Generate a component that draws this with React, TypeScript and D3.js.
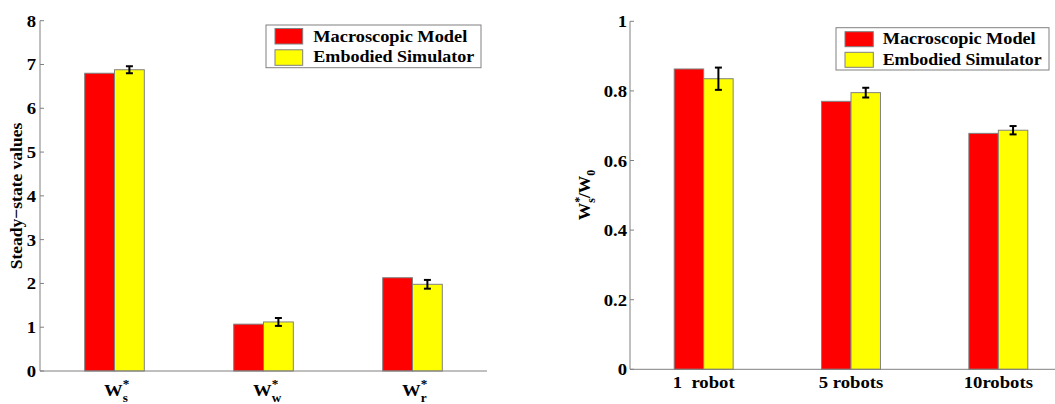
import React from "react";
import * as d3 from "d3";

const leftCats = ["s", "w", "r"];
const leftMacro = [6.8, 1.07, 2.13];
const leftEmbodied = [6.88, 1.12, 1.98];
const leftErr = [0.08, 0.09, 0.1];
const leftTicks = [0, 1, 2, 3, 4, 5, 6, 7, 8];

const rightCats = ["1  robot", "5 robots", "10robots"];
const rightMacro = [0.863, 0.77, 0.678];
const rightEmbodied = [0.835, 0.795, 0.687];
const rightErr = [0.032, 0.014, 0.012];
const rightTicks = [0, 0.2, 0.4, 0.6, 0.8, 1];

const seriesNames = ["Macroscopic Model", "Embodied Simulator"];
const colors = ["#ff0000", "#ffff00"];

const FONT = "Liberation Serif, Times New Roman, Times, DejaVu Serif, serif";
const AX = "#808080";
const SX = 1.1;

function SText({ x, y, anchor, children, size = 17 }: any) {
  return (
    <g transform={`translate(${x},${y}) scale(${SX},1)`}>
      <text x={0} y={0} textAnchor={anchor} fontFamily={FONT} fontWeight="bold" fontSize={size} fill="#000" style={{ whiteSpace: "pre" }}>
        {children}
      </text>
    </g>
  );
}

function Legend({ x0, y0, x1, y1, sw, texts }: any) {
  return (
    <g>
      <rect x={x0} y={y0} width={x1 - x0} height={y1 - y0} fill="#fff" stroke={AX} strokeWidth={1} />
      {seriesNames.map((n, i) => (
        <g key={n}>
          <rect x={sw.x} y={sw.ys[i]} width={sw.w} height={sw.h} fill={colors[i]} stroke={AX} strokeWidth={1} />
          <text x={texts.x} y={texts.ys[i]} fontFamily={FONT} fontWeight="bold" fontSize={17} textLength={texts.lens[i]} lengthAdjust="spacingAndGlyphs">
            {n}
          </text>
        </g>
      ))}
    </g>
  );
}

function Bars({ x, y, cats, a, b, err }: any) {
  const w = x.step() * 0.2;
  return (
    <g>
      {cats.map((c: string, i: number) => {
        const cx = (x(c) as number) + x.bandwidth() / 2;
        return (
          <g key={c}>
            <rect x={cx - w} y={y(a[i])} width={w} height={y(0) - y(a[i])} fill={colors[0]} stroke={AX} strokeWidth={1} />
            <rect x={cx} y={y(b[i])} width={w} height={y(0) - y(b[i])} fill={colors[1]} stroke={AX} strokeWidth={1} />
            <g stroke="#000" strokeWidth={2}>
              <line x1={cx + w / 2} x2={cx + w / 2} y1={y(b[i] - err[i])} y2={y(b[i] + err[i])} />
              <line x1={cx + w / 2 - 3.5} x2={cx + w / 2 + 3.5} y1={y(b[i] - err[i])} y2={y(b[i] - err[i])} />
              <line x1={cx + w / 2 - 3.5} x2={cx + w / 2 + 3.5} y1={y(b[i] + err[i])} y2={y(b[i] + err[i])} />
            </g>
          </g>
        );
      })}
    </g>
  );
}

export default function App() {
  const lx = d3.scaleBand<string>().domain(leftCats).range([40, 487]).padding(0);
  const ly = d3.scaleLinear().domain([0, 8]).range([371, 20.7]);
  const rx = d3.scaleBand<string>().domain(rightCats).range([630, 1072]).padding(0);
  const ry = d3.scaleLinear().domain([0, 1]).range([369.3, 21.3]);

  return (
    <svg width={1055} height={404} style={{ position: "absolute", left: 0, top: 0, background: "#fff" }}>
      <rect x={0} y={0} width={1055} height={404} fill="#fff" />
      {/* LEFT */}
      <Bars x={lx} y={ly} cats={leftCats} a={leftMacro} b={leftEmbodied} err={leftErr} />
      <g stroke={AX} strokeWidth={1} fill="none">
        <line x1={40} x2={40} y1={ly(0)} y2={ly(8)} />
        <line x1={40} x2={487} y1={ly(0)} y2={ly(0)} />
        {leftTicks.map((t) => (
          <line key={t} x1={40} x2={44} y1={ly(t)} y2={ly(t)} />
        ))}
      </g>
      {leftTicks.map((t) => (
        <SText key={t} x={36} y={ly(t) + 6} anchor="end">
          {String(t)}
        </SText>
      ))}
      <text transform={`translate(22,196) rotate(-90)`} textAnchor="middle" fontFamily={FONT} fontWeight="bold" fontSize={17.5}>
        Steady−state values
      </text>
      {leftCats.map((c) => {
        const cx = (lx(c) as number) + lx.bandwidth() / 2;
        return (
          <g key={c} transform={`translate(${cx - 10.5},396) scale(${SX},1)`}>
            <text x={0} y={0} fontFamily={FONT} fontWeight="bold" fontSize={17}>
              W
              <tspan dy={-8} fontSize={12}>*</tspan>
              <tspan dx={-6} dy={14} fontSize={12}>{c}</tspan>
            </text>
          </g>
        );
      })}
      <Legend
        x0={266}
        y0={25}
        x1={481}
        y1={67.7}
        sw={{ x: 275, w: 27.7, h: 15.5, ys: [28.5, 49.8] }}
        texts={{ x: 313.3, ys: [42.3, 61.7], lens: [154, 161] }}
      />

      {/* RIGHT */}
      <Bars x={rx} y={ry} cats={rightCats} a={rightMacro} b={rightEmbodied} err={rightErr} />
      <g stroke={AX} strokeWidth={1} fill="none">
        <line x1={630} x2={630} y1={ry(0)} y2={ry(1)} />
        <line x1={630} x2={1072} y1={ry(0)} y2={ry(0)} />
        {rightTicks.map((t) => (
          <line key={t} x1={630} x2={634} y1={ry(t)} y2={ry(t)} />
        ))}
      </g>
      {rightTicks.map((t) => (
        <SText key={t} x={627} y={ry(t) + 6} anchor="end">
          {String(t)}
        </SText>
      ))}
      <text transform={`translate(590,195) rotate(-90)`} textAnchor="middle" fontFamily={FONT} fontWeight="bold" fontSize={17.5}>
        W<tspan dy={-7} fontSize={12}>*</tspan>
        <tspan dx={-6} dy={12} fontSize={12}>s</tspan>
        <tspan dy={-5}>/W</tspan>
        <tspan dy={5} fontSize={12}>0</tspan>
      </text>
      {rightCats.map((c) => {
        const cx = (rx(c) as number) + rx.bandwidth() / 2;
        return (
          <SText key={c} x={cx} y={388} anchor="middle">
            {c}
          </SText>
        );
      })}
      <Legend
        x0={836}
        y0={27.7}
        x1={1049}
        y1={70}
        sw={{ x: 845, w: 28.3, h: 15, ys: [31.7, 52.3] }}
        texts={{ x: 882.7, ys: [44.3, 65], lens: [153, 159] }}
      />
    </svg>
  );
}
